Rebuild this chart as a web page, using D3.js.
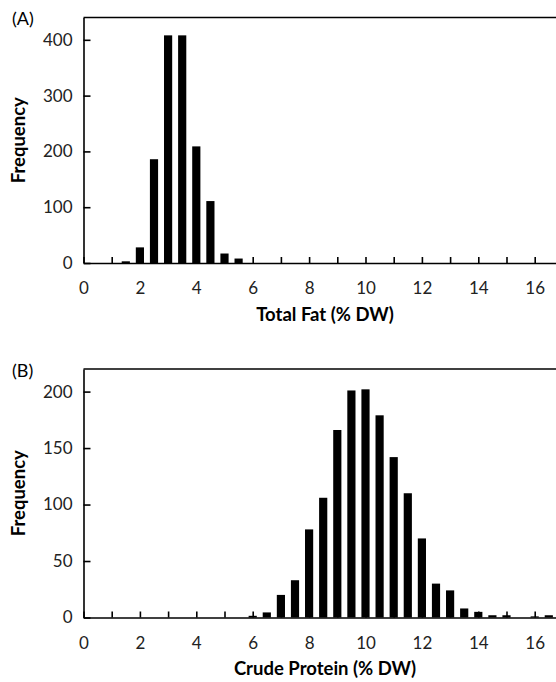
<!DOCTYPE html>
<html>
<head>
<meta charset="utf-8">
<script src="https://cdn.jsdelivr.net/npm/d3@7"></script>
<style>
  body { margin: 0; background: #fff; }
  svg { display: block; }
  .tick text { font-family: Lato, "Noto Sans", sans-serif; font-size: 17px; fill: #222; }
  .axis path, .axis line { stroke: #000; stroke-width: 1.6px; }
</style>
</head>
<body>
<svg width="556" height="682"></svg>
<script>
// bin centres (% DW) and frequencies
const fatBins = [1.5, 2, 2.5, 3, 3.5, 4, 4.5, 5, 5.5];
const fatFreq = [3, 28, 186, 408, 408, 209, 111, 17, 8];

const proteinBins = [6, 6.5, 7, 7.5, 8, 8.5, 9, 9.5, 10, 10.5, 11, 11.5, 12, 12.5, 13, 13.5, 14, 14.5, 15, 15.5, 16, 16.5];
const proteinFreq = [1.5, 4.5, 20, 33, 78, 106, 166, 201, 202, 179, 142, 110, 70, 30, 24, 8, 5, 2, 2, 0, 1, 2];

const xTicks = d3.range(0, 18);
const fatYTicks = [0, 100, 200, 300, 400];
const proteinYTicks = [0, 50, 100, 150, 200];

const svg = d3.select("svg");

const x = d3.scaleLinear()
    .domain([0, 18])
    .range([83.5, 83.5 + 18 * 28.2]);

function panel(opts) {
    const g = svg.append("g");
    const y = d3.scaleLinear()
        .domain([0, opts.ymax])
        .range([opts.bottom, opts.top]);

    // top frame line
    g.append("line")
        .attr("x1", x(0)).attr("x2", 556)
        .attr("y1", opts.top).attr("y2", opts.top)
        .attr("stroke", "#000").attr("stroke-width", 1.6);

    // bars
    const bw = x(0.29) - x(0);
    g.selectAll(".bar")
        .data(opts.bins.map((b, i) => ({ b: b, v: opts.freq[i] })))
        .enter()
        .append("rect")
        .attr("class", "bar")
        .attr("x", d => x(d.b) - bw / 2)
        .attr("width", bw)
        .attr("y", d => y(d.v))
        .attr("height", d => y(0) - y(d.v))
        .attr("fill", "#000");

    // x axis, ticks pointing inward
    g.append("g")
        .attr("class", "axis")
        .attr("transform", `translate(0,${opts.bottom})`)
        .call(d3.axisBottom(x)
            .tickValues(xTicks)
            .tickSizeInner(-6)
            .tickSizeOuter(0)
            .tickPadding(19)
            .tickFormat(d => (d % 2 === 0 && d <= 16) ? d : ""));

    // y axis
    g.append("g")
        .attr("class", "axis")
        .attr("transform", `translate(${x(0)},0)`)
        .call(d3.axisLeft(y)
            .tickValues(opts.yTicks)
            .tickSizeInner(-7)
            .tickSizeOuter(0)
            .tickPadding(11));

    g.selectAll(".axis .tick line").attr("stroke-width", 1.6);

    // axis titles
    g.append("text")
        .attr("x", 325)
        .attr("y", opts.bottom + 53)
        .attr("text-anchor", "middle")
        .attr("dominant-baseline", "middle")
        .style("font-family", "Lato, 'Noto Sans', sans-serif")
        .style("font-size", "18.5px")
        .style("font-weight", "bold")
        .text(opts.xTitle);

    g.append("text")
        .attr("transform", `translate(20,${(opts.top + opts.bottom) / 2}) rotate(-90)`)
        .attr("text-anchor", "middle")
        .attr("dominant-baseline", "middle")
        .style("font-family", "Lato, 'Noto Sans', sans-serif")
        .style("font-size", "18.5px")
        .style("font-weight", "bold")
        .text("Frequency");

    // panel letter
    g.append("text")
        .attr("x", 12)
        .attr("y", opts.top + 3)
        .attr("dominant-baseline", "middle")
        .style("font-family", "Lato, 'Noto Sans', sans-serif")
        .style("font-size", "18px")
        .text(opts.letter);
}

panel({ letter: "(A)", bins: fatBins, freq: fatFreq, ymax: 440, yTicks: fatYTicks,
        top: 17.5, bottom: 263, xTitle: "Total Fat (% DW)" });
panel({ letter: "(B)", bins: proteinBins, freq: proteinFreq, ymax: 220, yTicks: proteinYTicks,
        top: 369, bottom: 617.5, xTitle: "Crude Protein (% DW)" });
</script>
</body>
</html>
